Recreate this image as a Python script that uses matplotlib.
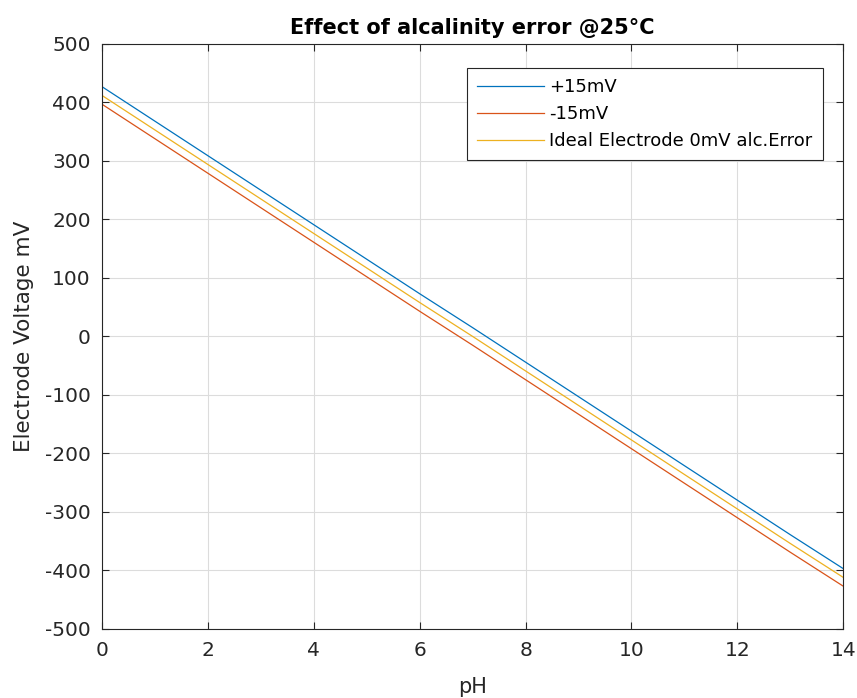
import matplotlib.pyplot as plt

# pH values and electrode voltages (mV)
ph = [0, 1, 2, 3, 4, 5, 6, 7, 8, 9, 10, 11, 12, 13, 14]
ideal = [412, 353, 294, 235, 176, 117, 58, 0, -59, -118, -177, -236, -295, -354, -412]
plus15 = [427, 368, 309, 250, 191, 132, 73, 15, -44, -103, -162, -221, -280, -339, -397]
minus15 = [397, 338, 279, 220, 161, 102, 43, -15, -74, -133, -192, -251, -310, -369, -427]

plt.rcParams['font.family'] = ['DejaVu Sans']
plt.rcParams['axes.unicode_minus'] = False

fig = plt.figure(figsize=(8.57, 6.98), dpi=100)
ax = fig.add_axes([0.119, 0.099, 0.865, 0.838])

ax.plot(ph, plus15, color='#0072BD', lw=0.9, label='+15mV')
ax.plot(ph, minus15, color='#D95319', lw=0.9, label='-15mV')
ax.plot(ph, ideal, color='#EDB120', lw=0.9, label='Ideal Electrode 0mV alc.Error')

ax.set_xlim(0, 14)
ax.set_ylim(-500, 500)
ax.set_xticks(range(0, 15, 2))
ax.set_yticks(range(-500, 501, 100))
ax.grid(True, color='#dcdcdc', lw=0.8)
ax.set_axisbelow(True)
ax.tick_params(direction='in', top=True, right=True, labelsize=14.5, colors='#262626', length=5)
ax.tick_params(axis='x', pad=9)
ax.tick_params(axis='y', pad=8)
for s in ax.spines.values():
    s.set_color('#262626')
    s.set_linewidth(0.8)

ax.set_title('Effect of alcalinity error @25°C', fontsize=15, fontweight='bold', pad=7)
ax.set_xlabel('pH', fontsize=15, color='#262626', labelpad=12)
ax.set_ylabel('Electrode Voltage mV', fontsize=15.5, color='#262626', labelpad=8)

leg = ax.legend(loc='upper right', bbox_to_anchor=(0.972, 0.959), borderaxespad=0,
                fontsize=13, fancybox=False, framealpha=1, edgecolor='#262626',
                handlelength=3.7, borderpad=0.55, labelspacing=0.5, handletextpad=0.3)
leg.get_frame().set_linewidth(0.8)

plt.savefig('out.png', dpi=100)
